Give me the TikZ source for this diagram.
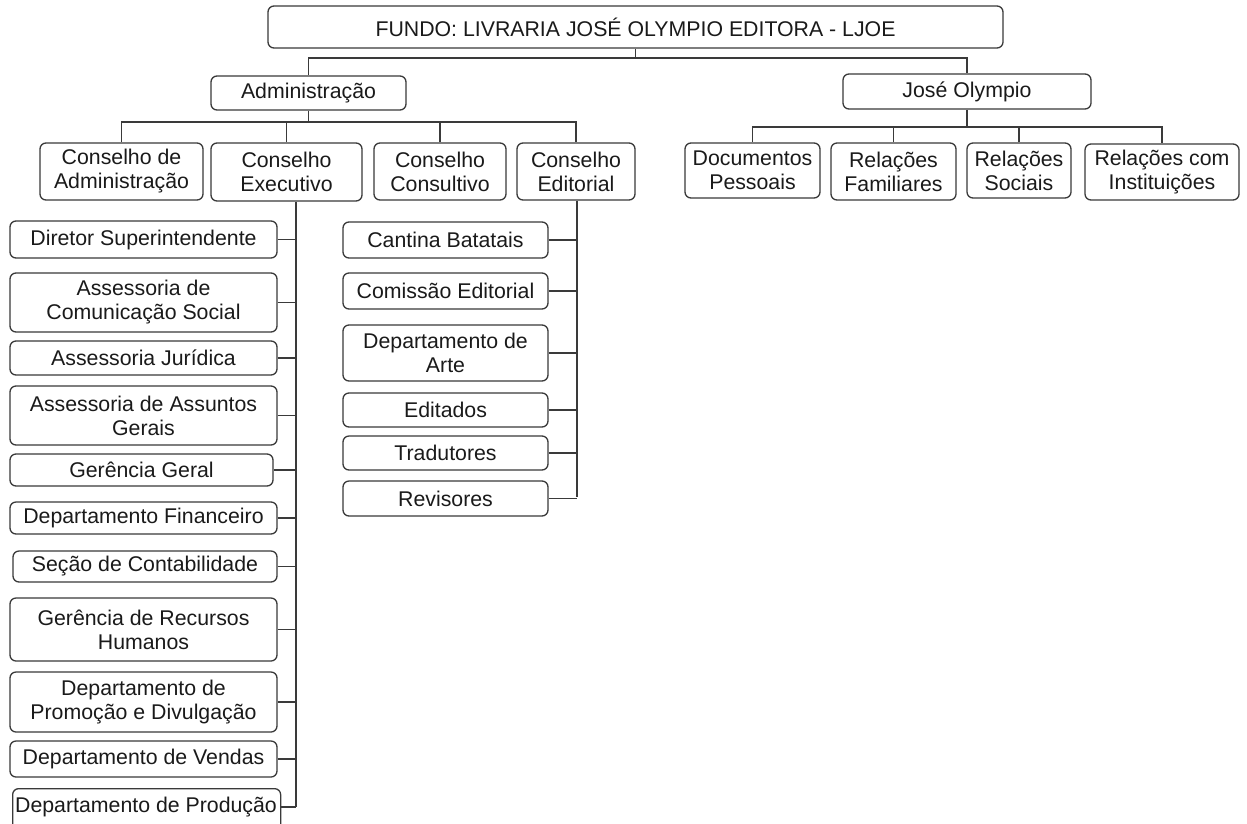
\documentclass[tikz,border=0pt]{standalone}
\usepackage{fontspec}
\setmainfont{Liberation Sans}
\definecolor{edge}{HTML}{3A3A3A}
\definecolor{ink}{HTML}{1A1A1A}
\tikzset{
  box/.style={draw=edge, line width=1.3pt, rounded corners=6pt, fill=white,
    align=center, inner sep=0pt, text=ink,
    font=\fontsize{21.3}{24}\selectfont},
  conn/.style={draw=edge, line width=1.3pt}
}
\newcommand\bx[6]{\node[box, minimum width={#4-#2}, minimum height={#5-#3}] (#1) at ({(#2+#4)/2},{(#3+#5)/2}) {#6};}
\begin{document}
\begin{tikzpicture}[x=1pt,y=-1pt]
\useasboundingbox[fill=white] (0,0) rectangle (1247,823);
% top
\bx{title}{268}{6}{1003}{48}{FUNDO: LIVRARIA JOSÉ OLYMPIO EDITORA - LJOE}
\bx{admin}{211}{76}{406}{110}{Administração}
\bx{jose}{843}{74}{1091}{109}{José Olympio}
% conselhos
\bx{cadm}{40}{143}{203}{200}{Conselho de\\Administração}
\bx{cexe}{211}{143}{362}{201}{Conselho\\Executivo}
\bx{ccon}{374}{143}{506}{200}{Conselho\\Consultivo}
\bx{cedi}{517}{143}{635}{200}{Conselho\\Editorial}
% jose children
\bx{dp}{685}{143}{820}{198}{Documentos\\Pessoais}
\bx{rf}{831}{143}{956}{200}{Relações\\Familiares}
\bx{rs}{967}{143}{1071}{198}{Relações\\Sociais}
\bx{ri}{1085}{144}{1239}{200}{Relações com\\Instituições}
% executive items
\bx{dirsup}{10}{221}{277}{258}{Diretor Superintendente}
\bx{ascom}{10}{273}{277}{332}{Assessoria de\\Comunicação Social}
\bx{asjur}{10}{341}{277}{375}{Assessoria Jurídica}
\bx{asger}{10}{386}{277}{445}{Assessoria de Assuntos\\Gerais}
\bx{gerger}{10}{454}{273}{486}{Gerência Geral}
\bx{depfin}{10}{502}{277}{534}{Departamento Financeiro}
\bx{secont}{13}{551}{277}{582}{Seção de Contabilidade}
\bx{gerrh}{10}{598}{277}{661}{Gerência de Recursos\\Humanos}
\bx{deppro}{10}{672}{277}{732}{Departamento de\\Promoção e Divulgação}
\bx{depven}{10}{741}{277}{777}{Departamento de Vendas}
\node[box, minimum width=268, minimum height=52, anchor=north west] (depprod) at (12,788) {};
\node[text=ink, font=\fontsize{21.3}{24}\selectfont, inner sep=0pt] (depprodt) at (146,807) {Departamento de Produção};
% editorial items
\bx{cantina}{343}{222}{548}{258}{Cantina Batatais}
\bx{comissao}{343}{273}{548}{309}{Comissão Editorial}
\bx{arte}{343}{325}{548}{381}{Departamento de\\Arte}
\bx{editados}{343}{393}{548}{427}{Editados}
\bx{tradutores}{343}{436}{548}{470}{Tradutores}
\bx{revisores}{343}{481}{548}{516}{Revisores}
% connectors top
\coordinate (bus0) at (0,58);
\draw[conn] (title.south) -- (title.south |- bus0);
\draw[conn] (admin.north) |- (bus0 -| title.south) -| (jose.north);
\coordinate (bus1) at (0,122);
\draw[conn] (admin.south) -- (admin.south |- bus1);
\draw[conn] (cadm.north) |- (bus1 -| cedi.north) -- (cedi.north);
\draw[conn] (cexe.north) -- (cexe.north |- bus1);
\draw[conn] (ccon.north) -- (ccon.north |- bus1);
\coordinate (bus2) at (0,127);
\draw[conn] (jose.south) -- (jose.south |- bus2);
\draw[conn] (dp.north) |- (bus2 -| ri.north) -- (ri.north);
\draw[conn] (rf.north) -- (rf.north |- bus2);
\draw[conn] (rs.north) -- (rs.north |- bus2);
% executive trunk
\coordinate (etrunk) at (296,807);
\draw[conn] (cexe.south -| etrunk) -- (etrunk);
\foreach \n in {dirsup,ascom,asjur,asger,gerger,depfin,secont,gerrh,deppro,depven}
  \draw[conn] (\n.east) -- (\n.east -| etrunk);
\draw[conn] (depprod.east |- etrunk) -- (etrunk);
% editorial trunk
\coordinate (edtrunk) at (577,497);
\draw[conn] (cedi.south -| edtrunk) -- (edtrunk);
\foreach \n in {cantina,comissao,arte,editados,tradutores,revisores}
  \draw[conn] (\n.east) -- (\n.east -| edtrunk);
\end{tikzpicture}
\end{document}
